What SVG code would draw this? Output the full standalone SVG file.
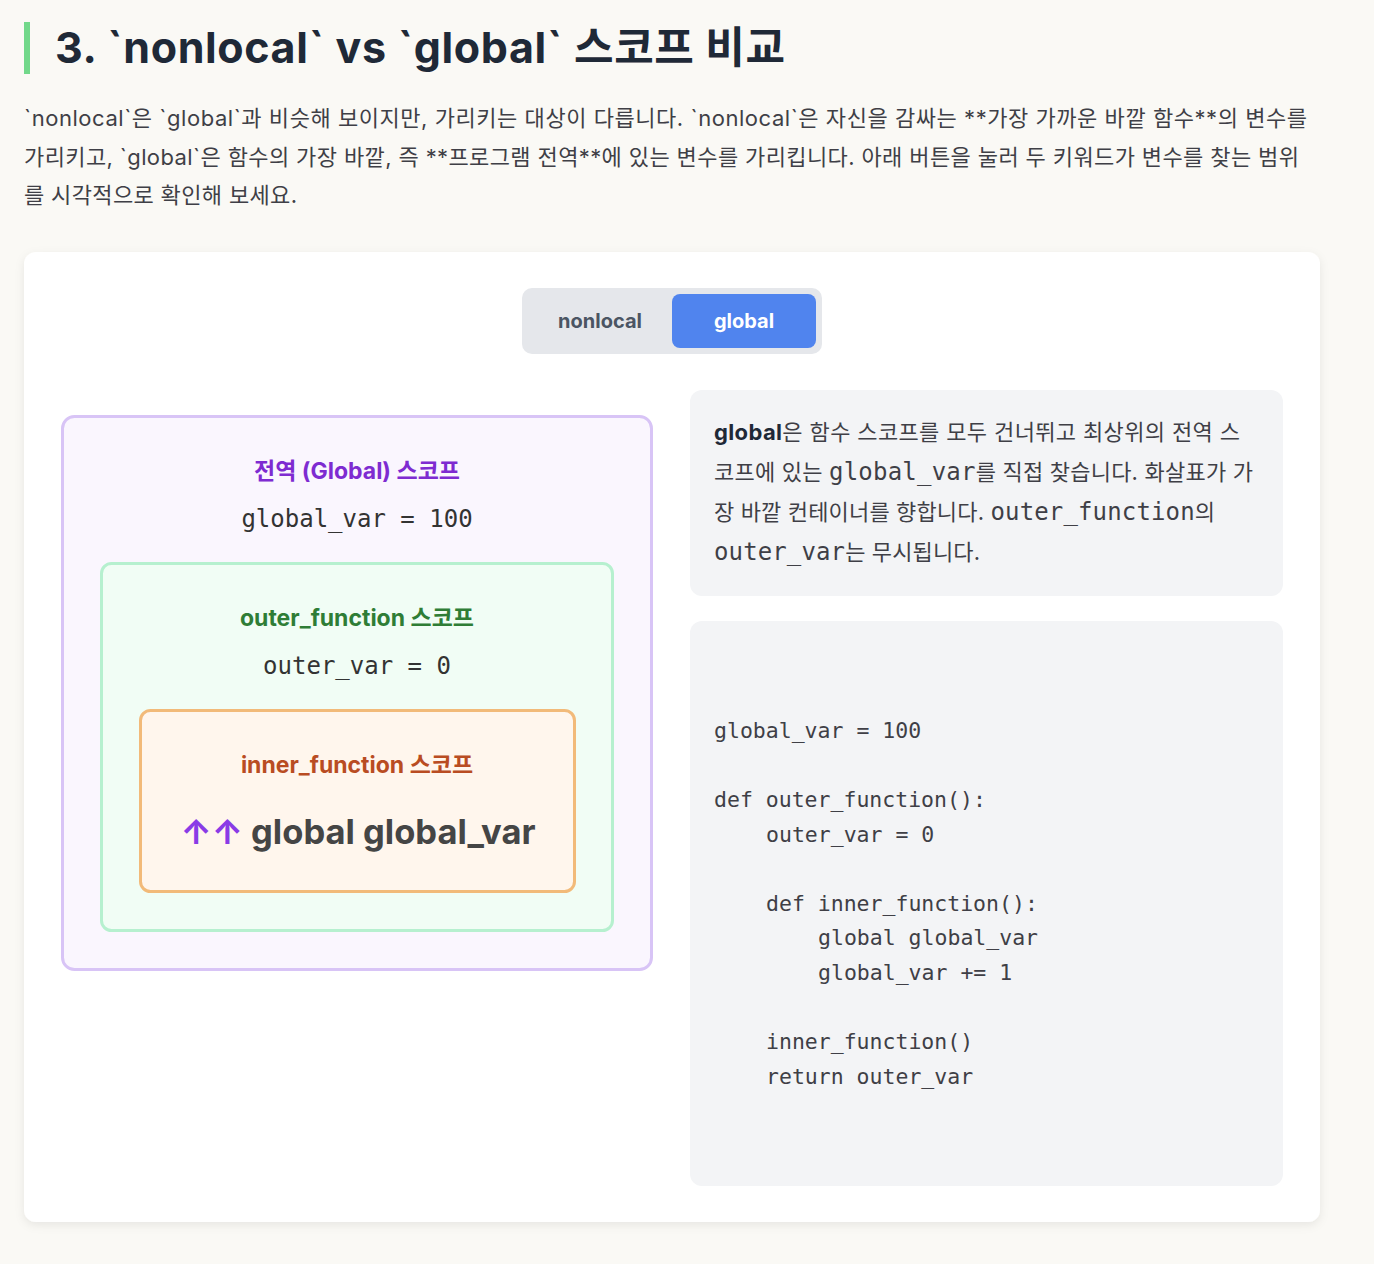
<svg xmlns="http://www.w3.org/2000/svg" width="1374" height="1264" viewBox="0 0 1374 1264">
<defs>
<style>
.sans{font-family:Inter,"Noto Sans CJK KR",sans-serif}
.mono{font-family:"DejaVu Sans Mono","Noto Sans CJK KR",monospace}
.para{font-size:22px;fill:#3f3f46}
.desc{font-size:22px;fill:#3f3f46}
.code{font-size:21.5px;fill:#3f3f46}
.scope{font-size:23px;font-weight:700;text-anchor:middle}
.var{font-size:24px;fill:#333;text-anchor:middle}
</style>
<filter id="sh" x="-5%" y="-5%" width="110%" height="110%">
<feDropShadow dx="0" dy="3" stdDeviation="5" flood-color="#000" flood-opacity="0.08"/>
</filter>
</defs>
<rect width="1374" height="1264" fill="#faf9f5"/>
<g id="header">
<rect x="24" y="22" width="6" height="52" fill="#72d88a"/>
<text class="sans" x="55" y="63" font-size="43" font-weight="700" fill="#1f2937" textLength="730" lengthAdjust="spacing">3. `nonlocal` vs `global` 스코프 비교</text>
<text class="sans para" x="24" y="126" textLength="1283" lengthAdjust="spacing">`nonlocal`은 `global`과 비슷해 보이지만, 가리키는 대상이 다릅니다. `nonlocal`은 자신을 감싸는 **가장 가까운 바깥 함수**의 변수를</text>
<text class="sans para" x="24" y="165" textLength="1275" lengthAdjust="spacing">가리키고, `global`은 함수의 가장 바깥, 즉 **프로그램 전역**에 있는 변수를 가리킵니다. 아래 버튼을 눌러 두 키워드가 변수를 찾는 범위</text>
<text class="sans para" x="24" y="203" textLength="273" lengthAdjust="spacing">를 시각적으로 확인해 보세요.</text>
</g>
<g id="card">
<rect x="24" y="252" width="1296" height="970" rx="12" fill="#fff" filter="url(#sh)"/>
</g>
<g id="toggle">
<rect x="522" y="288" width="300" height="66" rx="10" fill="#e5e7eb"/>
<rect x="672" y="294" width="144" height="54" rx="8" fill="#5084ee"/>
<text class="sans" x="600" y="328" font-size="20" font-weight="700" fill="#4b5563" text-anchor="middle">nonlocal</text>
<text class="sans" x="744" y="328" font-size="20" font-weight="700" fill="#fff" text-anchor="middle">global</text>
</g>
<g id="global-scope">
<rect x="62.5" y="416.5" width="589" height="553" rx="12" fill="#faf6fe" stroke="#d8c4f6" stroke-width="3"/>
<text class="sans scope" x="357" y="479" fill="#7e2bd1">전역 (Global) 스코프</text>
<text class="mono var" x="357" y="526.6">global_var = 100</text>
</g>
<g id="outer-scope">
<rect x="101.5" y="563.5" width="511" height="367" rx="10" fill="#f1fdf5" stroke="#b6f0cf" stroke-width="3"/>
<text class="sans scope" x="357" y="626" fill="#2f7d36">outer_function 스코프</text>
<text class="mono var" x="357" y="673.6">outer_var = 0</text>
</g>
<g id="inner-scope">
<rect x="140.5" y="710.5" width="434" height="181" rx="10" fill="#fff6ed" stroke="#f2ba79" stroke-width="3"/>
<text class="sans scope" x="357" y="773" fill="#b94c22">inner_function 스코프</text>
<text class="sans" x="358" y="844" font-size="34.5" font-weight="700" fill="#454545" text-anchor="middle"><tspan fill="#8a3be6">↑↑</tspan> global global_var</text>
</g>
<g id="description">
<rect x="690" y="390" width="593" height="206" rx="12" fill="#f3f4f6"/>
<text class="sans desc" x="714" y="440" textLength="526" lengthAdjust="spacing"><tspan font-weight="700" fill="#1f2937">global</tspan>은 함수 스코프를 모두 건너뛰고 최상위의 전역 스</text>
<text class="sans desc" x="714" y="480" textLength="539" lengthAdjust="spacing">코프에 있는 <tspan class="mono" font-size="24">global_var</tspan>를 직접 찾습니다. 화살표가 가</text>
<text class="sans desc" x="714" y="520" textLength="501" lengthAdjust="spacing">장 바깥 컨테이너를 향합니다. <tspan class="mono" font-size="24">outer_function</tspan>의</text>
<text class="sans desc" x="714" y="560" textLength="266" lengthAdjust="spacing"><tspan class="mono" font-size="24">outer_var</tspan>는 무시됩니다.</text>
</g>
<g id="code">
<rect x="690" y="621" width="593" height="565" rx="12" fill="#f3f4f6"/>
<text class="mono code" x="714" y="737.6">global_var = 100</text>
<text class="mono code" x="714" y="806.6">def outer_function():</text>
<text class="mono code" x="766" y="841.6">outer_var = 0</text>
<text class="mono code" x="766" y="910.6">def inner_function():</text>
<text class="mono code" x="818" y="944.6">global global_var</text>
<text class="mono code" x="818" y="979.6">global_var += 1</text>
<text class="mono code" x="766" y="1048.6">inner_function()</text>
<text class="mono code" x="766" y="1083.6">return outer_var</text>
</g>
<g id="connectors"></g>
</svg>
